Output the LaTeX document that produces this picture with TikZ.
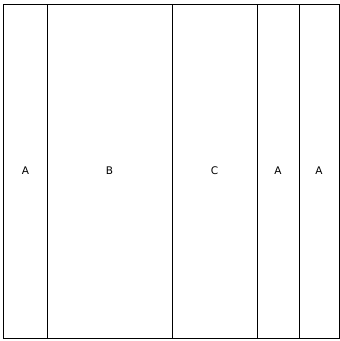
\documentclass[tikz,border=0pt]{standalone}
\usepackage{fontspec}
\setmainfont{DejaVu Sans}
\begin{document}
\begin{tikzpicture}[x=1pt,y=-1pt,
  cell/.style={draw=black,line width=1pt,inner sep=0pt,font=\fontsize{10.5}{12}\selectfont}]
\useasboundingbox (0,0) rectangle (340,341);
\node[cell,minimum width=43pt,minimum height=334pt] (c1) at (25.5,171) {A};
\node[cell,minimum width=125pt,minimum height=334pt] (c2) at (109.5,171) {B};
\node[cell,minimum width=85pt,minimum height=334pt] (c3) at (214.5,171) {C};
\node[cell,minimum width=42pt,minimum height=334pt] (c4) at (278,171) {A};
\node[cell,minimum width=40pt,minimum height=334pt] (c5) at (319,171) {A};
\end{tikzpicture}
\end{document}
